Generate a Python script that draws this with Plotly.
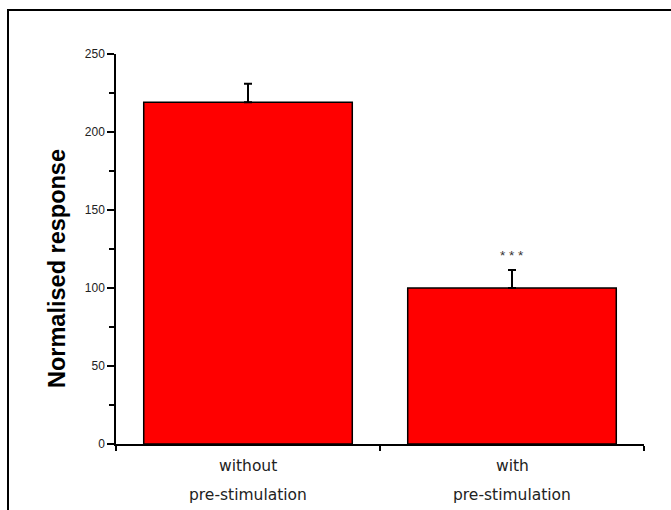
import plotly.graph_objects as go

categories = ["without pre-stimulation", "with pre-stimulation"]
label_line1 = ["without", "with"]
label_line2 = ["pre-stimulation", "pre-stimulation"]
values = [219, 100]
errors = [12, 11.5]
significance = ["", "* * *"]
sig_y = [0, 121]
y_title = "Normalised response"

fig = go.Figure()
fig.add_trace(go.Bar(
    x=categories, y=values, width=0.79,
    marker=dict(color="#ff0000", line=dict(color="black", width=1.5)),
    error_y=dict(type="data", array=errors, symmetric=False, arrayminus=[0, 0],
                 color="black", thickness=2, width=4),
    showlegend=False,
))

for c, s, sy in zip(categories, significance, sig_y):
    if s:
        fig.add_annotation(x=c, y=sy, xref="x", yref="y", text=s, showarrow=False,
                           font=dict(family="Liberation Sans, Arial", size=13.5, color="#333"))

for c, l1, l2 in zip(categories, label_line1, label_line2):
    fig.add_annotation(x=c, y=-0.057, xref="x", yref="paper", text=l1, showarrow=False,
                       yanchor="middle", font=dict(family="DejaVu Sans", size=15.5, color="#222"))
    fig.add_annotation(x=c, y=-0.13, xref="x", yref="paper", text=l2, showarrow=False,
                       yanchor="middle", font=dict(family="DejaVu Sans", size=15.5, color="#222"))

# y-axis title (placed as rotated annotation to match original offset)
fig.add_annotation(x=(57 - 116) / 528, y=(444 - 269) / 390, xref="paper", yref="paper",
                   text="<b>" + y_title + "</b>", textangle=-90, showarrow=False,
                   xanchor="center", yanchor="middle",
                   font=dict(family="Liberation Sans, Arial", size=23.5, color="black"))

# outer frame
fig.add_shape(type="rect", xref="paper", yref="paper",
              x0=(8 - 116) / 528, x1=1.2, y0=-0.5, y1=(444 - 10) / 390,
              line=dict(color="black", width=2), layer="below")

fig.update_layout(
    width=671, height=510,
    margin=dict(l=116, r=27, t=54, b=66),
    plot_bgcolor="white", paper_bgcolor="white",
    xaxis=dict(type="category", range=[-0.5, 1.5], showticklabels=False,
               showline=True, linecolor="black", linewidth=1.5,
               ticks="outside", tickson="boundaries", ticklen=5, tickwidth=1.5,
               tickcolor="black", showgrid=False, zeroline=False),
    yaxis=dict(range=[0, 250], tickvals=[0, 50, 100, 150, 200, 250],
               showline=True, linecolor="black", linewidth=1.5,
               ticks="outside", ticklen=7, tickwidth=1.5, tickcolor="black",
               minor=dict(tickvals=[25, 75, 125, 175, 225], ticks="outside",
                          ticklen=5, tickwidth=1.5, tickcolor="black"),
               showgrid=False, zeroline=False,
               tickfont=dict(family="Liberation Sans, Arial", size=12, color="#222")),
)

fig.write_html("out.html")
